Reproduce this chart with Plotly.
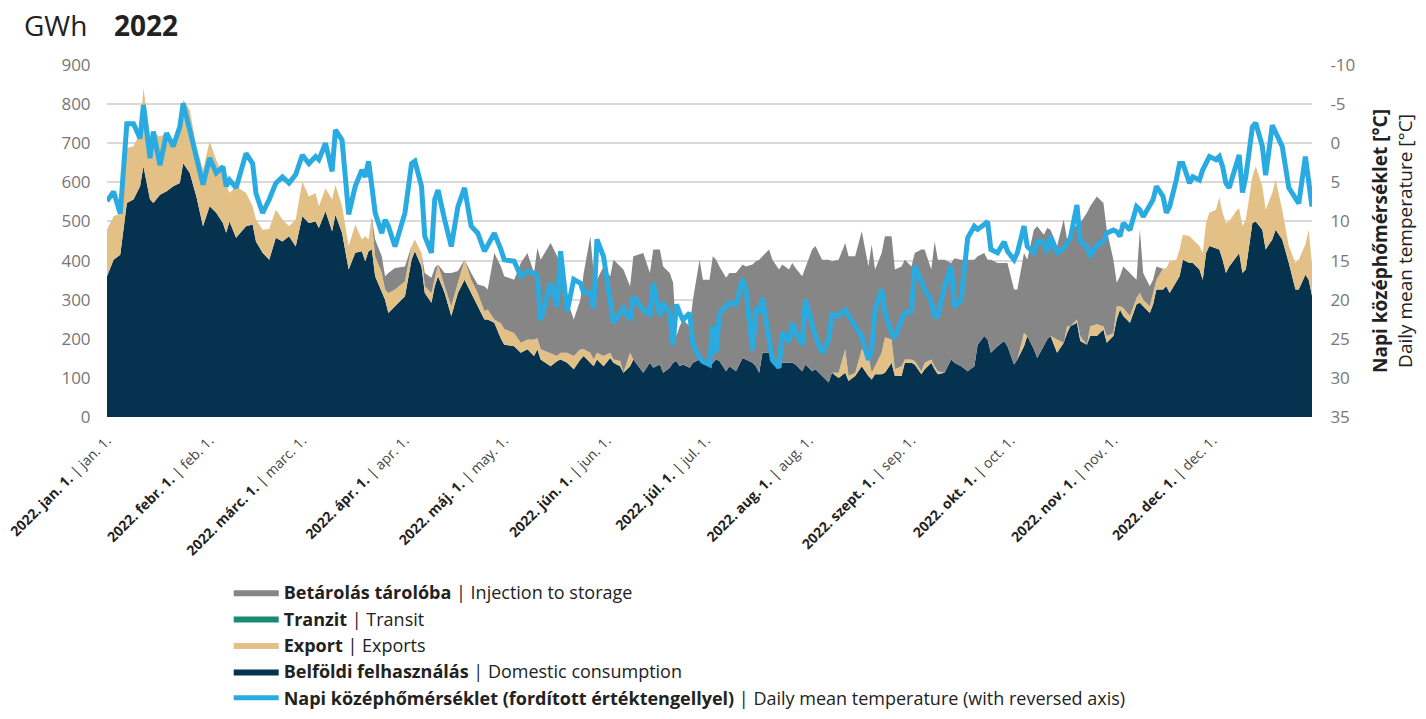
import plotly.graph_objects as go
import pandas as pd

# napok sorszáma 2022. jan. 1-től (0 = jan. 1.)
DAYS = [
    0, 2, 4, 6, 8, 10, 11, 13, 14, 16,
    18, 20, 22, 23, 25, 27, 29, 31, 33, 35,
    36, 37, 39, 42, 44, 45, 47, 49, 51, 53,
    55, 57, 59, 61, 63, 64, 66, 68, 69, 71,
    73, 75, 77, 78, 79, 80, 81, 83, 84, 85,
    87, 90, 92, 93, 95, 96, 98, 99, 100, 102,
    104, 106, 108, 110, 112, 114, 115, 117, 119, 120,
    123, 125, 127, 129, 130, 131, 134, 136, 137, 139,
    141, 143, 144, 146, 147, 148, 150, 152, 153, 155,
    156, 158, 159, 162, 164, 165, 167, 168, 170, 171,
    172, 173, 174, 176, 177, 179, 180, 182, 183, 184,
    185, 187, 188, 190, 192, 193, 195, 196, 197, 198,
    200, 201, 203, 204, 206, 207, 208, 210, 211, 213,
    214, 216, 218, 219, 221, 223, 224, 226, 228, 230,
    231, 232, 234, 235, 237, 238, 240, 241, 243, 244,
    246, 247, 249, 250, 251, 253, 255, 256, 258, 260,
    262, 263, 265, 266, 267, 269, 271, 272, 274, 275,
    277, 278, 280, 281, 283, 284, 285, 287, 289, 290,
    291, 293, 294, 296, 297, 299, 301, 302, 304, 305,
    306, 307, 309, 311, 312, 313, 315, 316, 317, 319,
    320, 321, 323, 324, 325, 327, 328, 330, 331, 332,
    333, 335, 336, 337, 338, 339, 341, 342, 343, 344,
    346, 347, 349, 350, 352, 353, 355, 357, 359, 360,
    362, 363, 364,
]

# Belföldi felhasználás (GWh)
DOMESTIC = [
    360, 402, 415, 547, 556, 590, 641, 556, 547, 568,
    577, 590, 598, 649, 624, 564, 488, 539, 522, 496,
    471, 500, 458, 488, 492, 449, 420, 402, 458, 449,
    462, 436, 513, 496, 500, 483, 526, 475, 517, 471,
    377, 420, 424, 398, 424, 428, 360, 317, 300, 266,
    283, 309, 402, 424, 385, 317, 292, 334, 360, 317,
    258, 317, 351, 317, 283, 249, 249, 241, 200, 185,
    181, 164, 173, 156, 173, 147, 130, 143, 147, 139,
    122, 147, 156, 139, 130, 147, 130, 151, 139, 130,
    113, 130, 147, 113, 139, 126, 134, 113, 126, 139,
    143, 130, 134, 126, 139, 147, 143, 130, 139, 147,
    143, 117, 130, 117, 151, 147, 139, 130, 113, 164,
    164, 139, 130, 139, 139, 139, 134, 117, 134, 117,
    122, 105, 88, 113, 100, 113, 92, 105, 130, 105,
    96, 109, 109, 113, 139, 105, 105, 139, 139, 134,
    109, 122, 139, 122, 109, 113, 147, 139, 130, 117,
    130, 185, 207, 198, 164, 181, 194, 181, 134, 147,
    181, 207, 173, 151, 185, 198, 207, 164, 190, 215,
    232, 241, 194, 185, 207, 207, 224, 190, 207, 249,
    275, 258, 241, 288, 292, 283, 266, 288, 326, 326,
    334, 317, 347, 360, 402, 394, 394, 377, 351, 419,
    437, 432, 428, 402, 368, 385, 407, 419, 368, 377,
    496, 500, 479, 428, 454, 479, 454, 394, 326, 326,
    364, 351, 310,
]

# Export (GWh)
EXPORT = [
    119, 111, 105, 141, 136, 136, 200, 161, 179, 149,
    149, 119, 149, 162, 161, 128, 144, 166, 136, 119,
    119, 73, 132, 85, 47, 56, 59, 79, 72, 56,
    26, 69, 89, 68, 73, 56, 59, 81, 77, 68,
    60, 72, 30, 64, 30, 77, 51, 51, 26, 51,
    43, 38, 35, 30, 34, 17, 25, 17, 30, 17,
    25, 26, 51, 34, 34, 22, 26, 8, 40, 40,
    34, 26, 25, 42, 29, 26, 34, 13, 17, 25,
    34, 26, 17, 25, 17, 17, 26, 13, 8, 13,
    0, 34, 0, 0, 0, 0, 0, 0, 0, 0,
    0, 0, 0, 0, 0, 0, 0, 0, 0, 0,
    0, 0, 0, 0, 0, 0, 0, 0, 0, 0,
    0, 0, 0, 0, 0, 0, 0, 0, 0, 0,
    0, 0, 0, 0, 13, 60, 13, 8, 43, 51,
    17, 21, 55, 91, 59, 17, 25, 8, 8, 9,
    8, 17, 8, 8, 8, 0, 0, 0, 0, 0,
    0, 0, 0, 0, 0, 0, 0, 0, 0, 0,
    34, 0, 0, 0, 0, 0, 0, 34, 0, 17,
    0, 8, 13, 0, 25, 30, 8, 17, 8, 34,
    8, 21, 17, 17, 25, 17, 17, 29, 25, 53,
    47, 81, 55, 68, 64, 68, 60, 60, 69, 77,
    85, 98, 134, 120, 128, 115, 119, 115, 120, 128,
    119, 141, 111, 102, 119, 128, 76, 43, 68, 76,
    77, 128, 80,
]

# Tranzit (GWh) - 2022-ben nem volt
TRANSIT = [0] * len(DAYS)

# Betárolás tárolóba (GWh)
INJECTION = [
    0, 0, 0, 0, 0, 0, 0, 0, 0, 0,
    0, 0, 0, 0, 0, 0, 0, 0, 0, 0,
    0, 0, 0, 0, 0, 0, 0, 0, 0, 0,
    0, 0, 0, 0, 0, 0, 0, 0, 0, 0,
    0, 0, 0, 0, 0, 5, 43, 43, 34, 51,
    55, 38, 0, 0, 0, 34, 39, 30, 0, 34,
    85, 30, 0, 17, 22, 63, 51, 170, 145, 135,
    136, 204, 221, 170, 230, 229, 281, 255, 221, 136,
    93, 127, 195, 298, 221, 187, 229, 196, 255, 242,
    264, 170, 264, 306, 229, 302, 294, 272, 242, 204,
    64, 102, 115, 106, 161, 255, 208, 221, 272, 255,
    242, 239, 238, 251, 239, 238, 251, 268, 289, 247,
    264, 263, 247, 251, 238, 255, 247, 243, 247, 311,
    315, 297, 314, 285, 289, 272, 306, 298, 302, 229,
    328, 247, 255, 258, 264, 255, 255, 255, 238, 276,
    311, 289, 230, 319, 285, 289, 247, 267, 272, 285,
    272, 226, 212, 204, 238, 213, 200, 213, 192, 179,
    204, 195, 306, 337, 281, 285, 272, 239, 315, 222,
    239, 243, 289, 337, 307, 327, 315, 272, 187, 60,
    77, 106, 110, 46, 162, 68, 51, 34, 34, 0,
    0, 0, 0, 0, 0, 0, 0, 0, 0, 0,
    0, 0, 0, 0, 0, 0, 0, 0, 0, 0,
    0, 0, 0, 0, 0, 0, 0, 0, 0, 0,
    0, 0, 0,
]

# Napi középhőmérséklet (°C)
TEMP = [
    7.4, 6.2, 9.0, -2.5, -2.5, -0.6, -4.9, 1.9, -1.5, 2.8,
    -1.3, 0.4, -2.1, -5.1, -1.7, 2.1, 5.3, 1.9, 3.8, 3.0,
    5.5, 4.7, 5.7, 1.3, 2.6, 6.4, 8.9, 7.2, 5.1, 4.3,
    5.1, 4.0, 1.5, 2.6, 1.7, 2.1, 0.0, 3.6, -1.7, -0.4,
    9.1, 5.5, 3.4, 4.3, 2.3, 5.5, 8.9, 11.5, 9.8, 10.6,
    13.2, 8.9, 2.6, 2.3, 5.5, 11.9, 14.0, 7.2, 6.0, 9.8,
    13.2, 8.1, 5.7, 10.6, 11.5, 13.8, 13.0, 11.5, 13.6, 14.9,
    15.1, 17.0, 16.4, 16.6, 17.0, 22.6, 17.9, 20.9, 13.8, 21.5,
    17.4, 17.9, 19.1, 19.1, 21.1, 12.3, 14.5, 19.6, 23.0, 21.7,
    21.1, 22.6, 19.6, 21.3, 21.9, 17.9, 22.1, 20.4, 21.7, 25.8,
    20.6, 21.7, 22.6, 21.7, 25.8, 27.4, 27.9, 28.3, 23.4, 26.8,
    21.7, 20.9, 20.4, 20.6, 17.4, 18.7, 26.4, 21.1, 21.7, 19.8,
    25.1, 27.7, 28.7, 24.2, 25.5, 23.0, 24.0, 25.8, 20.0, 23.0,
    24.7, 26.8, 25.1, 21.9, 22.1, 21.3, 22.1, 23.4, 24.7, 27.7,
    26.4, 21.3, 18.7, 21.7, 24.2, 24.9, 22.6, 21.7, 21.5, 15.7,
    17.7, 18.7, 20.2, 22.1, 22.1, 18.3, 15.7, 20.9, 20.0, 12.1,
    10.6, 11.0, 10.4, 10.0, 13.6, 14.0, 12.6, 13.8, 14.9, 14.0,
    10.6, 13.2, 14.0, 12.6, 12.6, 14.0, 11.9, 14.0, 13.4, 12.8,
    12.1, 7.9, 12.6, 13.2, 14.5, 13.0, 12.6, 11.5, 11.1, 11.3,
    11.9, 10.2, 11.1, 8.1, 8.5, 9.4, 7.7, 7.2, 5.5, 6.8,
    8.9, 8.1, 4.7, 2.6, 2.6, 5.1, 4.3, 4.7, 3.4, 2.6,
    1.7, 2.1, 1.7, 3.0, 5.1, 5.7, 2.8, 1.5, 6.3, 4.3,
    -2.1, -2.6, 0.4, 4.1, -2.3, -1.3, 0.4, 5.7, 7.2, 7.7,
    1.7, 4.7, 8.1,
]

MONTH_STARTS = ["2022-01-01", "2022-02-01", "2022-03-01", "2022-04-01",
                "2022-05-01", "2022-06-01", "2022-07-01", "2022-08-01",
                "2022-09-01", "2022-10-01", "2022-11-01", "2022-12-01"]
MONTH_HU = ["2022. jan. 1.", "2022. febr. 1.", "2022. márc. 1.", "2022. ápr. 1.",
            "2022. máj. 1.", "2022. jún. 1.", "2022. júl. 1.", "2022. aug. 1.",
            "2022. szept. 1.", "2022. okt. 1.", "2022. nov. 1.", "2022. dec. 1."]
MONTH_EN = ["jan. 1.", "feb. 1.", "marc. 1.", "apr. 1.", "may. 1.", "jun. 1.",
            "jul. 1.", "aug. 1.", "sep. 1.", "oct. 1.", "nov. 1.", "dec. 1."]

TEMP_TICKS = [-10, -5, 0, 5, 10, 15, 20, 25, 30, 35]

NAVY = "#05334f"
TAN = "#e3c186"
GREEN = "#1b8a73"
GRAY = "#868686"
BLUE = "#29abe2"
FONT = "Open Sans"

dates = pd.Timestamp("2022-01-01") + pd.to_timedelta(DAYS, unit="D")

fig = go.Figure()

areas = [
    (DOMESTIC, "<b>Belföldi felhasználás</b> | Domestic consumption", NAVY, 4),
    (EXPORT, "<b>Export</b> | Exports", TAN, 3),
    (TRANSIT, "<b>Tranzit</b> | Transit", GREEN, 2),
    (INJECTION, "<b>Betárolás tárolóba</b> | Injection to storage", GRAY, 1),
]
for values, name, color, rank in areas:
    fig.add_trace(go.Scatter(
        x=dates, y=values, name=name,
        mode="lines", stackgroup="gas",
        line=dict(width=0, color=color),
        fillcolor=color,
        legendrank=rank,
    ))

fig.add_trace(go.Scatter(
    x=dates, y=TEMP, yaxis="y2",
    name="<b>Napi középhőmérséklet (fordított értéktengellyel)</b> | Daily mean temperature (with reversed axis)",
    mode="lines",
    line=dict(color=BLUE, width=5),
    legendrank=5,
))

ticktext = [f"<b>{hu}</b> | <span style='color:#444'>{en}</span>"
            for hu, en in zip(MONTH_HU, MONTH_EN)]

# a html body 8px-es margója miatt kisebb ábra; a jelmagyarázat alja
# lelóghat (mint az eredetin), ezért nincs automatikus margó-növelés
fig.update_layout(
    width=1410, height=703,
    margin=dict(l=99, r=106, t=57, b=294, autoexpand=False),
    paper_bgcolor="white", plot_bgcolor="white",
    font=dict(family=FONT, color="#222"),
    showlegend=True,
    legend=dict(
        x=0.101, y=-0.446, xanchor="left", yanchor="top",
        traceorder="normal",
        font=dict(size=18, color="#222"),
        tracegroupgap=0,
        itemwidth=45,
    ),
    xaxis=dict(
        type="date",
        range=["2022-01-01", "2022-12-31"],
        tickvals=MONTH_STARTS, ticktext=ticktext,
        tickangle=-45,
        tickfont=dict(size=14, color="#222"),
        ticklabeloverflow="allow",
        showgrid=False, zeroline=False, showline=False,
        ticks="outside", ticklen=9, tickcolor="rgba(0,0,0,0)",
        automargin=False,
    ),
    yaxis=dict(
        range=[0, 900], dtick=100,
        gridcolor="#d9d9d9", gridwidth=2,
        zeroline=False, showline=False,
        ticks="outside", ticklen=12, tickcolor="rgba(0,0,0,0)",
        tickfont=dict(size=17, color="#777"),
        automargin=False,
    ),
    yaxis2=dict(
        overlaying="y", side="right",
        range=[35, -10],
        tickvals=TEMP_TICKS, ticktext=[str(t) for t in TEMP_TICKS],
        showgrid=False, zeroline=False, showline=False,
        ticks="outside", ticklen=14, tickcolor="rgba(0,0,0,0)",
        tickfont=dict(size=17, color="#777"),
        automargin=False,
        title=dict(
            text="<b>Napi középhőmérséklet [°C]</b><br>Daily mean temperature [°C]",
            font=dict(size=19, color="#222"),
            standoff=27,
        ),
    ),
    annotations=[
        dict(text="GWh", xref="paper", yref="paper", x=-0.0705, y=1.114,
             xanchor="left", yanchor="middle", showarrow=False,
             font=dict(size=28, color="#222")),
        dict(text="<b>2022</b>", xref="paper", yref="paper", x=0.004, y=1.114,
             xanchor="left", yanchor="middle", showarrow=False,
             font=dict(size=28, color="#222")),
    ],
)

fig.write_html("out.html")
